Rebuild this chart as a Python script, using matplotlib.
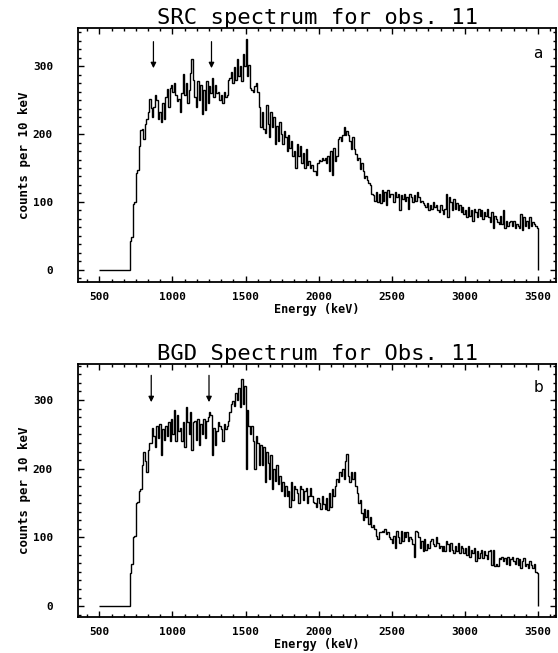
import numpy as np
import matplotlib
matplotlib.use("Agg")
import matplotlib.pyplot as plt
from matplotlib.ticker import AutoMinorLocator

# counts per 10 keV bin, bins starting at 700 keV (one row = 100 keV)
src_counts = [
    0, 42, 48, 97, 100, 143, 147, 182, 206, 208,
    192, 215, 222, 232, 252, 238, 225, 240, 258, 250,
    222, 232, 218, 245, 222, 255, 266, 240, 268, 272,
    262, 275, 258, 248, 252, 232, 260, 288, 258, 275,
    245, 265, 290, 310, 280, 255, 240, 278, 250, 272,
    230, 265, 235, 278, 245, 270, 260, 282, 255, 272,
    260, 262, 250, 258, 245, 262, 255, 258, 280, 282,
    292, 275, 298, 280, 310, 285, 300, 278, 318, 300,
    340, 285, 302, 268, 265, 262, 270, 275, 262, 240,
    210, 232, 208, 202, 243, 215, 195, 232, 210, 225,
    185, 212, 190, 218, 200, 185, 205, 195, 175, 198,
    180, 190, 168, 175, 150, 185, 168, 182, 158, 172,
    150, 178, 155, 160, 150, 155, 145, 145, 140, 158,
    162, 160, 165, 162, 165, 158, 168, 145, 175, 140,
    180, 160, 168, 192, 195, 190, 198, 210, 198, 205,
    198, 190, 178, 195, 178, 170, 162, 165, 148, 158,
    145, 135, 138, 132, 128, 125, 112, 110, 102, 115,
    100, 112, 98, 118, 102, 115, 95, 118, 108, 112,
    112, 100, 115, 108, 112, 88, 110, 105, 112, 102,
    108, 90, 112, 108, 100, 110, 102, 115, 108, 100,
    102, 98, 95, 92, 98, 88, 96, 90, 100, 92,
    95, 88, 85, 95, 88, 82, 90, 112, 78, 108,
    100, 88, 105, 90, 98, 88, 95, 85, 92, 82,
    88, 78, 92, 80, 88, 72, 90, 85, 78, 90,
    80, 88, 75, 85, 80, 90, 78, 70, 85, 62,
    80, 75, 70, 68, 80, 68, 88, 62, 72, 65,
    70, 72, 65, 72, 62, 68, 65, 62, 82, 58,
    78, 65, 72, 62, 78, 65, 70, 68, 65, 62,
]

bgd_counts = [
    0, 48, 62, 100, 102, 150, 152, 168, 170, 205,
    225, 212, 195, 228, 238, 238, 260, 248, 232, 262,
    245, 265, 220, 258, 242, 262, 248, 268, 240, 272,
    250, 285, 240, 278, 255, 260, 240, 268, 232, 290,
    268, 250, 282, 228, 268, 270, 242, 272, 235, 265,
    250, 272, 245, 270, 275, 282, 278, 220, 260, 235,
    255, 268, 262, 258, 240, 265, 258, 262, 270, 282,
    295, 298, 292, 310, 300, 318, 290, 330, 295, 320,
    200, 285, 262, 250, 262, 240, 200, 248, 238, 205,
    235, 205, 232, 180, 225, 208, 185, 220, 170, 200,
    182, 205, 178, 190, 168, 180, 160, 175, 160, 168,
    145, 180, 155, 175, 170, 165, 150, 175, 170, 155,
    168, 172, 150, 160, 172, 160, 152, 150, 145, 158,
    150, 142, 160, 148, 142, 158, 140, 165, 145, 170,
    160, 175, 185, 180, 195, 190, 200, 185, 212, 222,
    190, 180, 195, 185, 195, 175, 165, 150, 155, 135,
    125, 142, 130, 140, 120, 130, 115, 118, 112, 102,
    98, 108, 108, 110, 108, 112, 105, 108, 100, 98,
    92, 102, 85, 110, 100, 92, 110, 95, 108, 100,
    108, 95, 100, 98, 90, 72, 110, 108, 100, 85,
    95, 80, 98, 82, 90, 85, 95, 98, 90, 88,
    100, 92, 85, 88, 80, 88, 80, 95, 90, 80,
    92, 82, 78, 88, 80, 92, 78, 88, 85, 78,
    85, 75, 88, 72, 82, 78, 85, 65, 80, 70,
    78, 82, 70, 80, 75, 68, 80, 82, 60, 82,
    58, 62, 58, 70, 68, 72, 65, 70, 62, 72,
    60, 68, 72, 65, 62, 70, 60, 68, 55, 65,
    70, 58, 62, 55, 66, 60, 55, 62, 50, 48,
]

src_arrows = [870, 1267]
bgd_arrows = [855, 1250]
titles = ["SRC spectrum for obs. 11", "BGD Spectrum for Obs. 11"]
tags = ["a", "b"]

mono = "DejaVu Sans Mono"

fig = plt.figure(figsize=(5.58, 6.53), dpi=100)
ax_a = fig.add_axes([0.140, 0.568, 0.857, 0.389])
ax_b = fig.add_axes([0.140, 0.055, 0.857, 0.387])


def draw(ax, counts, arrows, title, tag, ylim):
    edges = np.concatenate([[500], 700 + 10 * np.arange(len(counts) + 1)])
    vals = np.concatenate([[0], counts])
    ax.stairs(vals, edges, baseline=0, color="black", lw=1.0)
    for xa in arrows:
        ax.annotate("", xy=(xa, 297), xytext=(xa, 336),
                    arrowprops=dict(arrowstyle="-|>", color="black", lw=0.9,
                                    mutation_scale=8, shrinkA=0, shrinkB=0))
    ax.text(3500, 318, tag, fontsize=11, ha="center", va="center")
    ax.set_xlim(355, 3625)
    ax.set_ylim(*ylim)
    ax.set_xticks(np.arange(500, 3501, 500))
    ax.set_yticks([0, 100, 200, 300])
    ax.xaxis.set_minor_locator(AutoMinorLocator(6))
    ax.yaxis.set_minor_locator(AutoMinorLocator(8))
    ax.tick_params(which="both", direction="in", top=True, right=True, width=1.0)
    ax.tick_params(which="major", length=4)
    ax.tick_params(which="minor", length=2.5)
    ax.tick_params(axis="y", pad=18)
    ax.tick_params(axis="x", pad=7)
    for lab in ax.get_xticklabels() + ax.get_yticklabels():
        lab.set_fontfamily(mono)
        lab.set_fontweight("bold")
        lab.set_fontsize(8)
    for sp in ax.spines.values():
        sp.set_linewidth(1.3)
    ax.set_xlabel("Energy (keV)", fontfamily=mono, fontweight="bold",
                  fontsize=8.5, labelpad=1)
    ax.set_ylabel("counts per 10 keV", fontfamily=mono, fontweight="bold",
                  fontsize=9, labelpad=1)
    ax.set_title(title, fontfamily=mono, fontsize=16, pad=3)


draw(ax_a, src_counts, src_arrows, titles[0], tags[0], (-18, 356))
draw(ax_b, bgd_counts, bgd_arrows, titles[1], tags[1], (-16, 352))

fig.savefig("out.png", dpi=100)
